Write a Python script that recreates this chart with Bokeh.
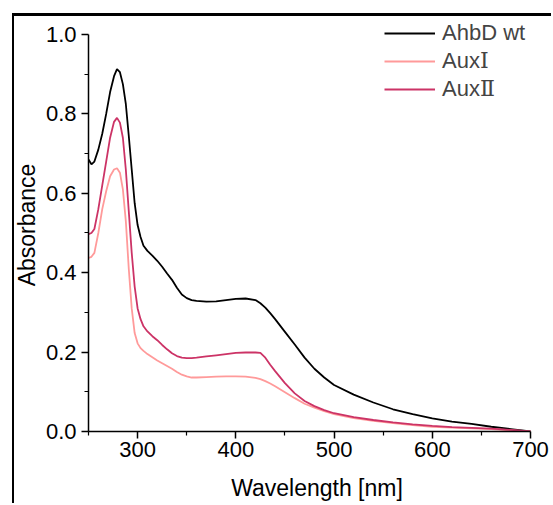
from bokeh.plotting import figure
from bokeh.models import Range1d, FixedTicker, PrintfTickFormatter, Legend, LegendItem
from bokeh.embed import file_html
from bokeh.resources import INLINE

wavelength = [250, 253, 256, 260, 264, 268, 272, 276, 279, 282, 285, 288, 291, 294, 297,
              300, 303, 306, 310, 315, 320, 325, 330, 335, 340, 345, 350, 355, 360, 370,
              380, 390, 400, 410, 420, 425, 430, 435, 440, 450, 460, 470, 480, 490, 500,
              520, 540, 560, 580, 600, 620, 640, 660, 680, 700]

ahbd_wt = [0.685, 0.673, 0.680, 0.710, 0.750, 0.800, 0.855, 0.895, 0.913, 0.905, 0.875,
           0.825, 0.745, 0.660, 0.575, 0.520, 0.490, 0.468, 0.455, 0.443, 0.430, 0.415,
           0.398, 0.382, 0.362, 0.345, 0.336, 0.331, 0.329, 0.327, 0.328, 0.331, 0.334,
           0.335, 0.331, 0.323, 0.312, 0.298, 0.283, 0.251, 0.219, 0.186, 0.158, 0.136,
           0.117, 0.093, 0.073, 0.056, 0.044, 0.033, 0.025, 0.019, 0.012, 0.006, 0.000]

aux_i = [0.437, 0.440, 0.450, 0.500, 0.560, 0.605, 0.643, 0.660, 0.663, 0.652, 0.610,
         0.530, 0.410, 0.310, 0.248, 0.222, 0.210, 0.203, 0.195, 0.187, 0.179, 0.172,
         0.165, 0.158, 0.150, 0.143, 0.139, 0.136, 0.136, 0.137, 0.138, 0.139, 0.139,
         0.138, 0.135, 0.132, 0.127, 0.121, 0.114, 0.099, 0.084, 0.070, 0.060, 0.051,
         0.044, 0.034, 0.027, 0.021, 0.016, 0.012, 0.010, 0.008, 0.006, 0.003, 0.000]

aux_ii = [0.497, 0.500, 0.510, 0.560, 0.620, 0.680, 0.740, 0.780, 0.790, 0.778, 0.740,
          0.660, 0.555, 0.450, 0.365, 0.310, 0.283, 0.265, 0.252, 0.240, 0.230, 0.218,
          0.207, 0.197, 0.190, 0.186, 0.185, 0.185, 0.186, 0.189, 0.192, 0.195, 0.198,
          0.199, 0.199, 0.198, 0.186, 0.168, 0.152, 0.122, 0.096, 0.077, 0.064, 0.054,
          0.046, 0.036, 0.029, 0.023, 0.018, 0.014, 0.011, 0.009, 0.007, 0.004, 0.000]

x_major = [300, 400, 500, 600, 700]
x_minor = [250, 350, 450, 550, 650]
y_major = [0.0, 0.2, 0.4, 0.6, 0.8, 1.0]
y_minor = [0.1, 0.3, 0.5, 0.7, 0.9]

names = ["AhbD wt", "Aux\u2160", "Aux\u2161"]
colors = ["#000000", "#FF9A9A", "#CC3366"]

FONT = "Liberation Sans"

p = figure(width=551, height=503, output_backend="svg", toolbar_location=None,
           x_range=Range1d(250, 715.27), y_range=Range1d(0, 1.0403),
           min_border_left=88, min_border_right=6, min_border_top=18, min_border_bottom=72)
p.outline_line_color = None
p.grid.visible = False
p.background_fill_color = "white"
p.border_fill_color = "white"

for ax in (p.xaxis[0], p.yaxis[0]):
    ax.axis_line_color = "black"
    ax.axis_line_width = 1.5
    ax.major_tick_line_color = "black"
    ax.major_tick_line_width = 1.5
    ax.minor_tick_line_color = "black"
    ax.minor_tick_line_width = 1.2
    ax.major_tick_out = 7
    ax.major_tick_in = 0
    ax.minor_tick_out = 4
    ax.minor_tick_in = 0
    ax.major_label_text_font = FONT
    ax.major_label_text_font_size = "22px"
    ax.major_label_text_color = "black"
    ax.axis_label_text_font = FONT
    ax.axis_label_text_font_size = "23px"
    ax.axis_label_text_font_style = "normal"
    ax.axis_label_text_color = "black"

p.xaxis[0].ticker = FixedTicker(ticks=x_major, minor_ticks=x_minor)
p.yaxis[0].ticker = FixedTicker(ticks=y_major, minor_ticks=y_minor)
p.xaxis[0].bounds = (250, 700)
p.yaxis[0].bounds = (0, 1.0)
p.yaxis[0].formatter = PrintfTickFormatter(format="%.1f")
p.xaxis[0].axis_label = "Wavelength [nm]"
p.yaxis[0].axis_label = "Absorbance"
p.xaxis[0].major_label_standoff = 3
p.yaxis[0].major_label_standoff = 5
p.xaxis[0].axis_label_standoff = 15
p.yaxis[0].axis_label_standoff = 3

renderers = []
for ys, c in zip([ahbd_wt, aux_i, aux_ii], colors):
    r = p.line(wavelength, ys, line_color=c, line_width=1.8)
    renderers.append(r)

legend = Legend(items=[LegendItem(label=n, renderers=[r]) for n, r in zip(names, renderers)],
                location=(296, 328), padding=0, margin=0, spacing=0,
                glyph_width=51, glyph_height=28, label_height=28, label_standoff=7,
                label_text_font="Liberation Sans, DejaVu Serif", label_text_font_size="22px",
                border_line_color=None, background_fill_alpha=0)
p.add_layout(legend, "center")

html = file_html(p, INLINE)
frame_divs = ('<div style="position:fixed;left:12px;top:13px;width:539px;height:3px;'
              'background:#000;z-index:2147483000;pointer-events:none"></div>'
              '<div style="position:fixed;left:12px;top:13px;width:2px;height:490px;'
              'background:#000;z-index:2147483000;pointer-events:none"></div>\n')
pos = html.rfind("</body>")
if pos != -1:
    html = html[:pos] + frame_divs + html[pos:]
open("out.html", "w").write(html)
